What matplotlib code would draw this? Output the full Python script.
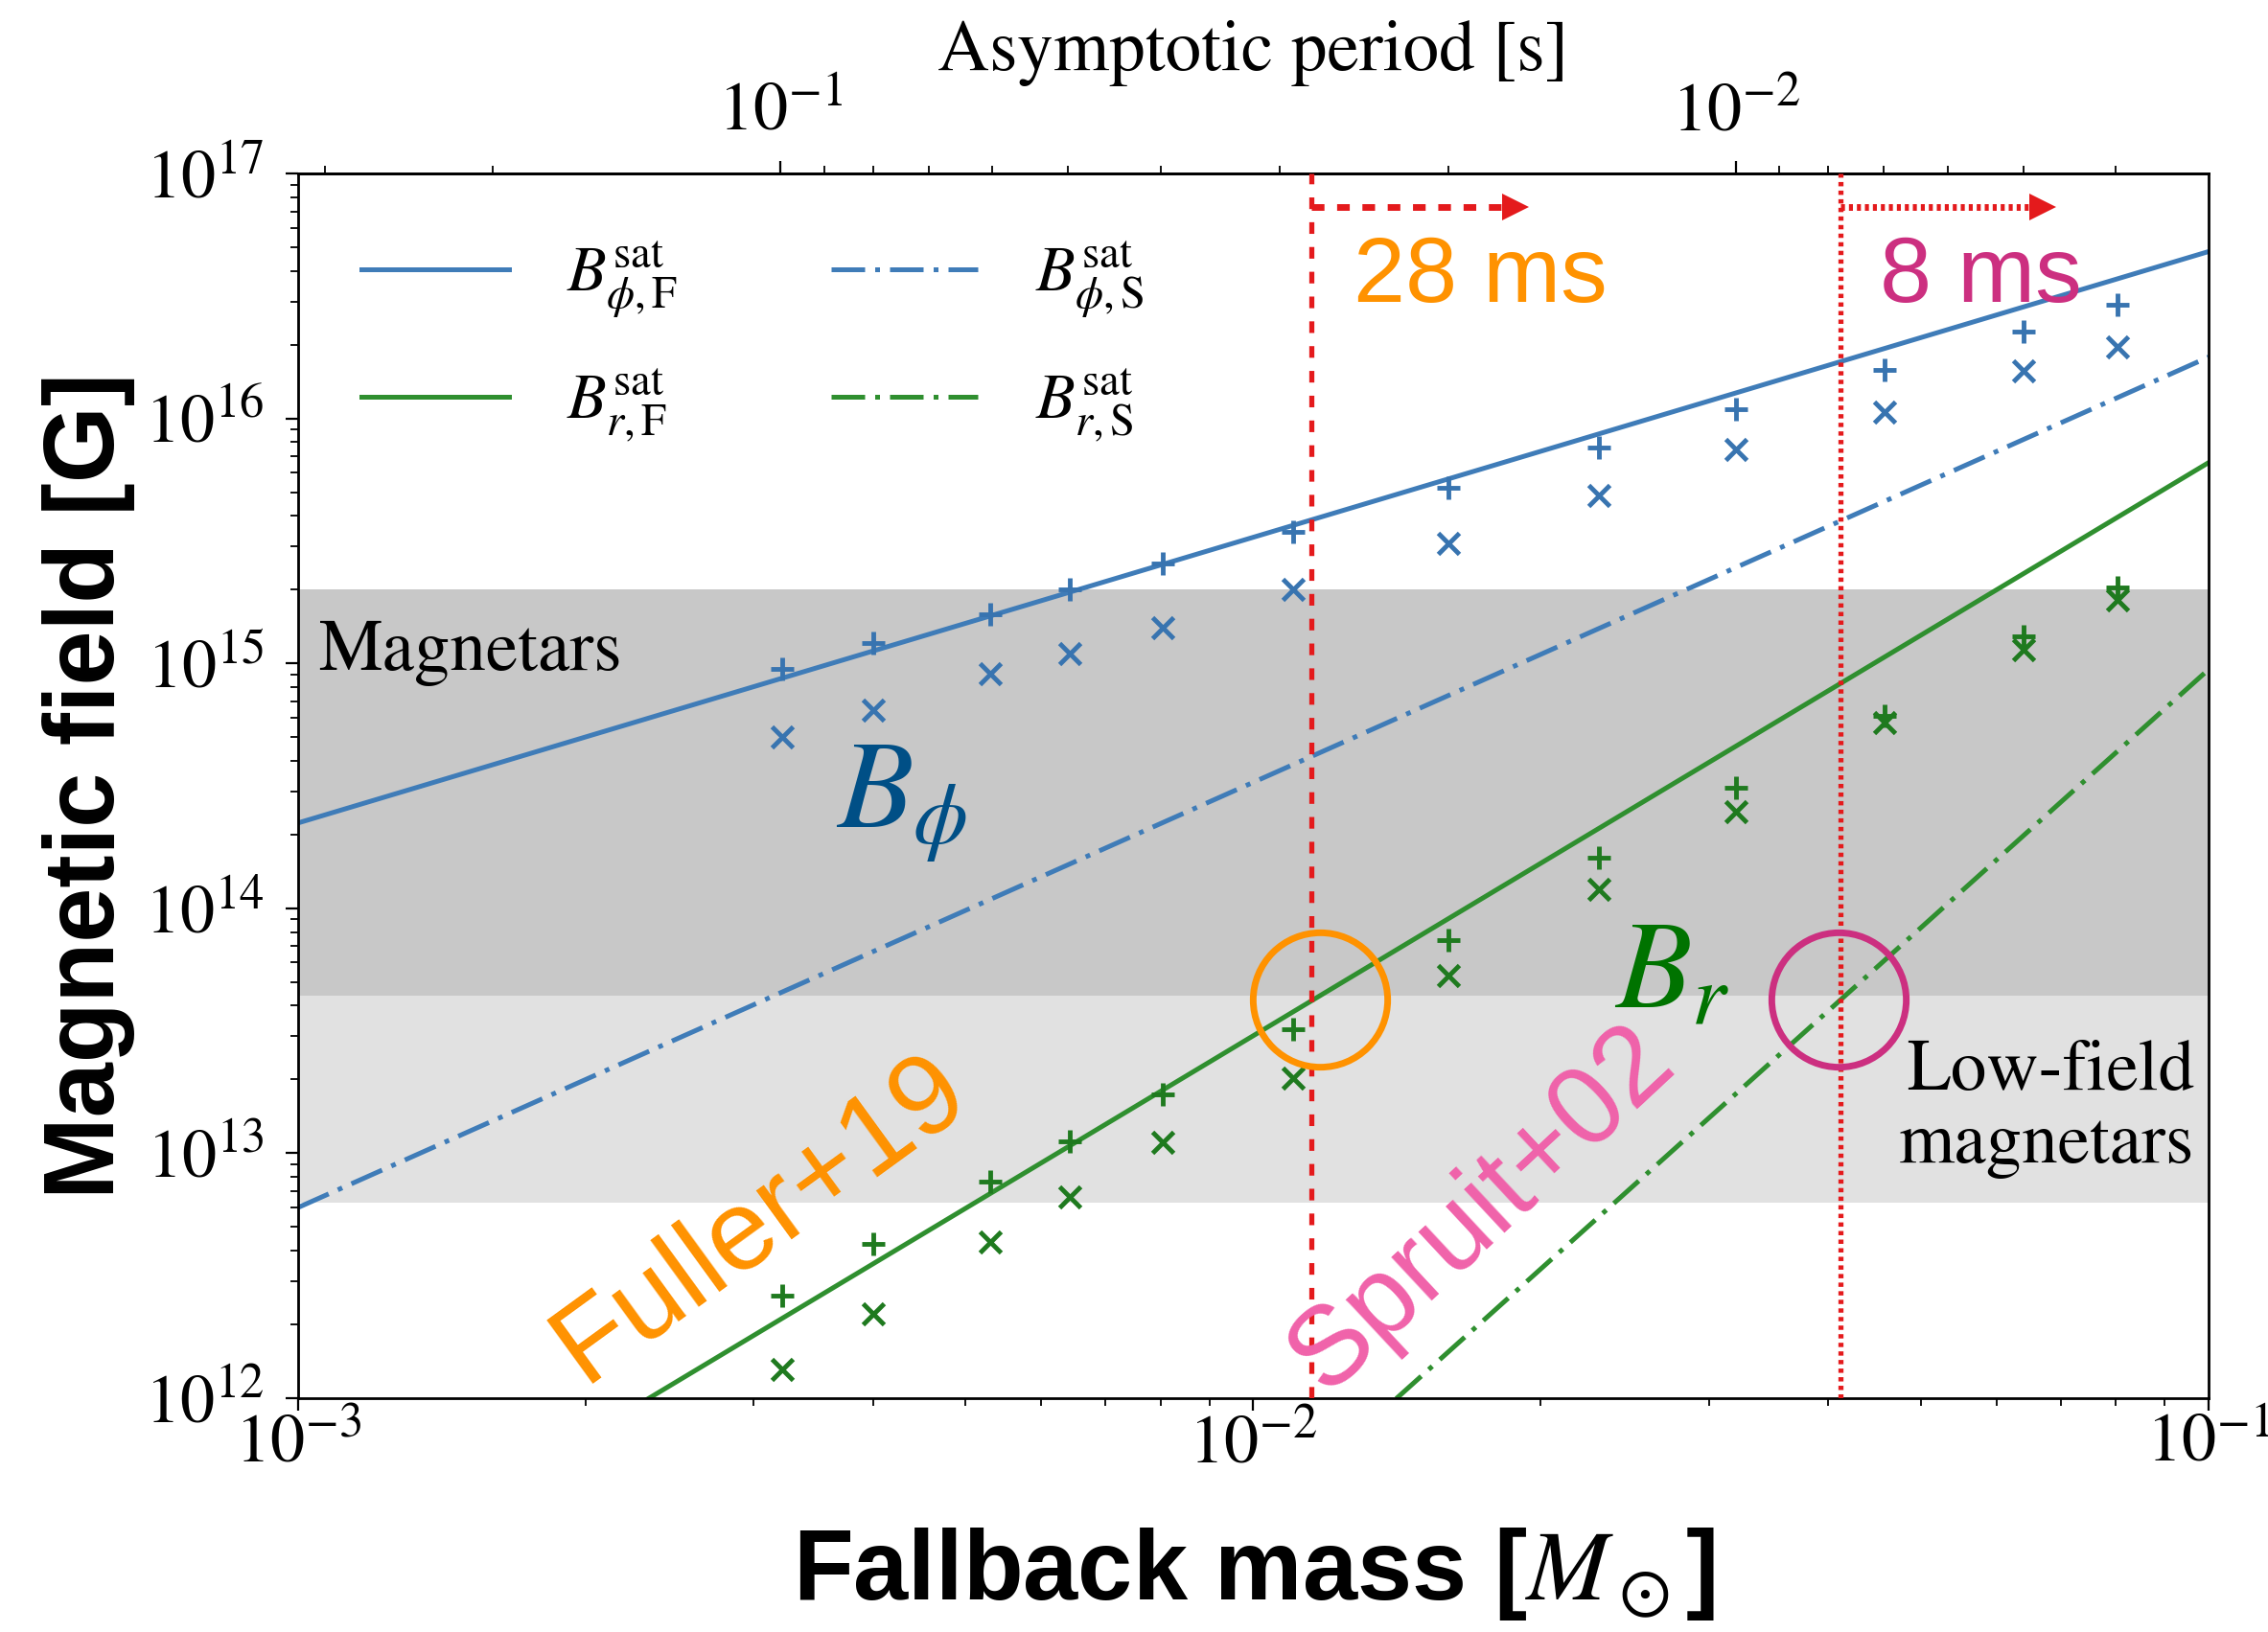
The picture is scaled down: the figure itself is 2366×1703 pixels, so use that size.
import numpy as np
import matplotlib
matplotlib.use('Agg')
import matplotlib.pyplot as plt
from matplotlib.ticker import NullFormatter

plt.rcParams['font.family'] = ['STIXGeneral', 'DejaVu Serif']
plt.rcParams['mathtext.fontset'] = 'stix'

##### Values

# fallback masses of the models [Msun]
mass = [3.215e-3, 4.00e-3, 5.31e-3, 6.43e-3, 8.04e-3, 1.10e-2,
        1.60e-2, 2.30e-2, 3.20e-2, 4.58e-2, 6.40e-2, 8.03e-2]

# '+' and 'x' points [G]
bphi_plus = [9.5e14, 1.21e15, 1.59e15, 2.0e15, 2.56e15, 3.45e15,
             5.19e15, 7.59e15, 1.09e16, 1.58e16, 2.27e16, 2.90e16]
bphi_cross = [5.0e14, 6.46e14, 9.06e14, 1.10e15, 1.40e15, 2.0e15,
              3.08e15, 4.83e15, 7.45e15, 1.06e16, 1.57e16, 1.96e16]
br_plus = [2.62e12, 4.28e12, 7.68e12, 1.12e13, 1.74e13, 3.2e13,
           7.43e13, 1.61e14, 3.1e14, 6.11e14, 1.29e15, 2.05e15]
br_cross = [1.31e12, 2.2e12, 4.34e12, 6.62e12, 1.11e13, 2.02e13,
            5.29e13, 1.2e14, 2.49e14, 5.71e14, 1.14e15, 1.82e15]

# saturation fields, straight lines in log-log (values at both ends of the mass range)
mass_line = [1e-3, 1e-1]
bphi_F = [2.23e14, 4.8e16]
bphi_S = [6.0e12, 1.78e16]
br_F = [1.38e11, 6.6e15]
br_S = [9.4e7, 9.44e14]

# observed classes [G]
magnetars = [4.4e13, 2.0e15]
low_field = [6.3e12, 4.4e13]

# period <-> mass conversion, P = k / M
k_period = 3.2e-4
period_ticks = [1e-1, 1e-2]

# masses of the 28 ms and 8 ms limits
mass_28ms = 0.01151
mass_8ms = 0.0412
arrow_b = 7.3e16
head_28ms = 0.0188
head_8ms = 0.0671

# circled crossings
circle_mass = [0.01173, 0.04099]
circle_b = [4.26e13, 4.26e13]

########## Colours

blue = '#3f7cb8'
blue_pts = '#3874b0'
green = '#2f8f2f'
green_pts = '#1f7a1f'
red = '#e41a1c'
orange = '#ff9200'
magenta = '#cc2f80'
pink = '#f062aa'

########## Figure

fig = plt.figure(figsize=(23.66, 17.03), dpi=100)
ax = fig.add_axes([0.1314, 0.1433, 0.8424, 0.7504])
ax.set_xscale('log')
ax.set_yscale('log')
ax.set_xlim(1e-3, 1e-1)
ax.set_ylim(1e12, 1e17)

ax.axhspan(magnetars[0], magnetars[1], color='#c8c8c8', lw=0, zorder=0)
ax.axhspan(low_field[0], low_field[1], color='#e1e1e1', lw=0, zorder=0)

lw = 3.6
dashdot = (0, (7, 2.1, 1, 2.1))
ax.plot(mass_line, bphi_F, color=blue, lw=lw, label=r'$B^{\rm sat}_{\phi,\rm F}$', zorder=2)
ax.plot(mass_line, br_F, color=green, lw=lw, label=r'$B^{\rm sat}_{r,\rm F}$', zorder=2)
ax.plot(mass_line, bphi_S, color=blue, lw=lw, ls=dashdot, label=r'$B^{\rm sat}_{\phi,\rm S}$', zorder=2)
ax.plot(mass_line, br_S, color=green, lw=lw, ls=dashdot, label=r'$B^{\rm sat}_{r,\rm S}$', zorder=2)

ax.plot(mass, bphi_plus, ls='none', marker='+', ms=17, mew=3.5, color=blue_pts, zorder=3)
ax.plot(mass, bphi_cross, ls='none', marker='x', ms=16, mew=3.5, color=blue_pts, zorder=3)
ax.plot(mass, br_plus, ls='none', marker='+', ms=17, mew=3.5, color=green_pts, zorder=3)
ax.plot(mass, br_cross, ls='none', marker='x', ms=16, mew=3.5, color=green_pts, zorder=3)

# period limits
ax.axvline(mass_28ms, color=red, lw=3.8, ls=(0, (2.3, 2.6)), zorder=4)
ax.axvline(mass_8ms, color=red, lw=3.8, ls=(0, (0.85, 0.85)), zorder=4)
ax.plot([mass_28ms, head_28ms], [arrow_b, arrow_b], color=red, lw=5, ls=(0, (1.9, 1.9)), zorder=4)
ax.plot([head_28ms], [arrow_b], marker='>', ms=20, mew=0, color=red, zorder=4)
ax.plot([mass_8ms, head_8ms], [arrow_b, arrow_b], color=red, lw=5, ls=(0, (0.6, 0.6)), zorder=4)
ax.plot([head_8ms], [arrow_b], marker='>', ms=20, mew=0, color=red, zorder=4)

ax.plot(circle_mass[0], circle_b[0], marker='o', ms=101, mfc='none', mec=orange, mew=5, zorder=5)
ax.plot(circle_mass[1], circle_b[1], marker='o', ms=101, mfc='none', mec=magenta, mew=5, zorder=5)

# annotations
ax.text(0.0105, 0.5947, 'Magnetars', transform=ax.transAxes, fontsize=54, va='baseline', zorder=5)
ax.text(0.9925, 0.2520, 'Low-field', transform=ax.transAxes, fontsize=54, ha='right', va='baseline', zorder=5)
ax.text(0.9925, 0.1925, 'magnetars', transform=ax.transAxes, fontsize=54, ha='right', va='baseline', zorder=5)
ax.text(0.2815, 0.4656, r'$B_\phi$', transform=ax.transAxes, fontsize=94, color='#004f86', va='baseline', zorder=5)
ax.text(0.6889, 0.3185, r'$B_r$', transform=ax.transAxes, fontsize=94, color='#007300', va='baseline', zorder=5)
ax.text(0.5525, 0.8952, '28 ms', transform=ax.transAxes, fontsize=70, color=orange,
        family='Liberation Sans', va='baseline', zorder=5)
ax.text(0.8279, 0.8952, '8 ms', transform=ax.transAxes, fontsize=70, color=magenta,
        family='Liberation Sans', va='baseline', zorder=5)
ax.text(0.2420, 0.1460, 'Fuller+19', transform=ax.transAxes, fontsize=86, color=orange,
        family='Liberation Sans', rotation=36, rotation_mode='anchor', ha='center', va='center', zorder=5)
ax.text(0.6200, 0.1541, 'Spruit+02', transform=ax.transAxes, fontsize=84, color=pink,
        family='Liberation Sans', rotation=43, rotation_mode='anchor', ha='center', va='center', zorder=5)

leg = ax.legend(ncol=2, loc='upper left', bbox_to_anchor=(0.020, 0.967), borderaxespad=0,
                frameon=False, fontsize=48, handlelength=2.3, handletextpad=0.9,
                columnspacing=2.4, labelspacing=0.72)

##### Axes styling

for s in ax.spines.values():
    s.set_linewidth(2)
ax.tick_params(which='both', direction='out', top=False, right=False, labelsize=52)
ax.tick_params(which='major', length=9.5, width=1.6)
ax.tick_params(which='minor', length=5.8, width=1.3)
ax.tick_params(axis='x', which='both', pad=2)
ax.tick_params(axis='y', which='both', pad=16)
ax.xaxis.set_minor_formatter(NullFormatter())
ax.yaxis.set_minor_formatter(NullFormatter())

def to_period(m):
    m = np.asarray(m, dtype=float)
    with np.errstate(divide='ignore'):
        return k_period / m

sec = ax.secondary_xaxis('top', functions=(to_period, to_period))
sec.set_xticks(period_ticks)
sec.xaxis.set_minor_formatter(NullFormatter())
sec.tick_params(which='both', direction='out', labelsize=52, pad=12)
sec.tick_params(which='major', length=9.5, width=1.6)
sec.tick_params(which='minor', length=5.8, width=1.3)
sec.spines['top'].set_linewidth(2)
sec.set_xlabel('Asymptotic period [s]', fontsize=54, va='baseline')
sec.xaxis.set_label_coords(0.5, 1.0845, transform=ax.transAxes)

ax.set_xlabel(r'Fallback mass [$M_\odot$]', fontsize=74, fontweight='bold',
              family='Liberation Sans', va='baseline')
ax.xaxis.set_label_coords(0.5, -0.1643)
ax.set_ylabel('Magnetic field [G]', fontsize=74, fontweight='bold',
              family='Liberation Sans', va='baseline')
ax.yaxis.set_label_coords(-0.0963, 0.5)

fig.savefig('out.png', dpi=100)
